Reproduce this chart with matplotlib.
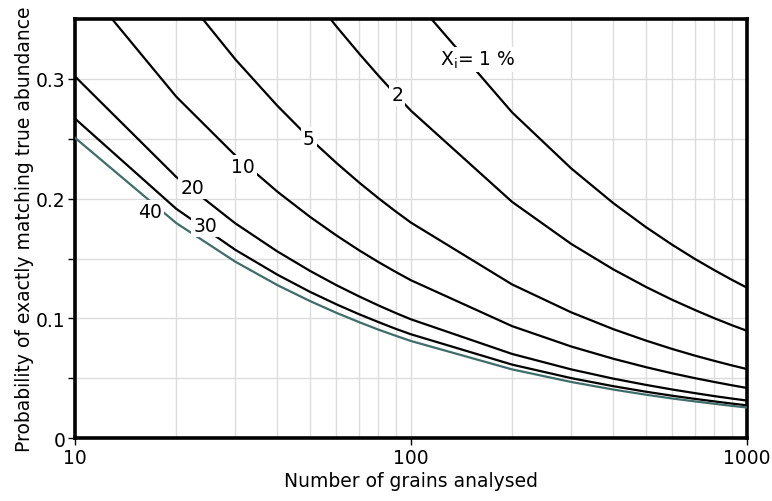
import matplotlib
matplotlib.use("Agg")
import matplotlib.pyplot as plt
import numpy as np
from matplotlib.ticker import LogLocator, FixedLocator, FuncFormatter, NullFormatter

nan = np.nan

# number of grains counted (x) and probability values
n_grains = [10, 20, 30, 40, 50, 60, 70, 80, 90, 100,
            200, 300, 400, 500, 600, 700, 800, 900, 1000]

p_1 = [nan, nan, nan, nan, nan, nan, nan, nan, nan, 0.3697,
       0.2720, 0.2252, 0.1963, 0.1763, 0.1614, 0.1497, 0.1403, 0.1324, 0.1257]
p_2 = [nan, nan, nan, nan, 0.3716, 0.3437, 0.3213, 0.3027, 0.2870, 0.2734,
       0.1973, 0.1622, 0.1410, 0.1264, 0.1155, 0.1071, 0.1002, 0.0945, 0.0897]
p_5 = [nan, 0.3774, 0.3163, 0.2776, 0.2502, 0.2298, 0.2136, 0.2004, 0.1894, 0.1800,
       0.1284, 0.1051, 0.0911, 0.0816, 0.0745, 0.0690, 0.0646, 0.0609, 0.0578]
p_10 = [0.3874, 0.2852, 0.2361, 0.2059, 0.1849, 0.1693, 0.1570, 0.1471, 0.1389, 0.1319,
        0.0936, 0.0766, 0.0664, 0.0594, 0.0542, 0.0502, 0.0470, 0.0443, 0.0420]
p_20 = [0.3020, 0.2182, 0.1794, 0.1560, 0.1398, 0.1278, 0.1185, 0.1109, 0.1046, 0.0993,
        0.0704, 0.0575, 0.0498, 0.0446, 0.0407, 0.0377, 0.0352, 0.0332, 0.0315]
p_30 = [0.2668, 0.1916, 0.1573, 0.1366, 0.1223, 0.1118, 0.1036, 0.0970, 0.0914, 0.0868,
        0.0615, 0.0502, 0.0435, 0.0389, 0.0355, 0.0329, 0.0308, 0.0290, 0.0275]
p_40 = [0.2508, 0.1797, 0.1474, 0.1279, 0.1146, 0.1047, 0.0970, 0.0907, 0.0856, 0.0812,
        0.0575, 0.0470, 0.0407, 0.0364, 0.0332, 0.0308, 0.0288, 0.0271, 0.0257]

curve_labels = [r"X$_\mathregular{i}$= 1 %", "2", "5", "10", "20", "30", "40"]
label_n = [158, 91, 49.7, 31.6, 22.3, 24.4, 16.7]
label_p = [0.316, 0.287, 0.250, 0.227, 0.209, 0.178, 0.189]

plt.rcParams['font.size'] = 13.5

fig = plt.figure(figsize=(7.72, 5.02), dpi=100)
ax = fig.add_axes([0.0972, 0.1249, 0.8704, 0.8353])

series = [p_1, p_2, p_5, p_10, p_20, p_30, p_40]
colors = ['black'] * 6 + ['#3f6e6a']
for vals, c in zip(series, colors):
    ax.plot(n_grains, vals, color=c, lw=1.6, zorder=3)

for txt, xn, yp in zip(curve_labels, label_n, label_p):
    ax.text(xn, yp, txt, ha='center', va='center', fontsize=13.5, zorder=5,
            bbox=dict(facecolor='white', edgecolor='none', pad=1.5))

ax.set_xscale('log')
ax.set_xlim(10, 1000)
ax.set_ylim(0, 0.35)

ax.xaxis.set_major_locator(FixedLocator([10, 100, 1000]))
ax.xaxis.set_major_formatter(FuncFormatter(lambda v, pos: f"{v:.0f}"))
ax.xaxis.set_minor_locator(LogLocator(base=10, subs=np.arange(2, 10)))
ax.xaxis.set_minor_formatter(NullFormatter())
ax.yaxis.set_major_locator(FixedLocator([0, 0.1, 0.2, 0.3]))
ax.yaxis.set_major_formatter(FuncFormatter(lambda v, pos: "0" if v == 0 else f"{v:.1f}"))
ax.yaxis.set_minor_locator(FixedLocator([0.05, 0.15, 0.25]))

ax.grid(True, which='both', color='#dcdcdc', lw=1.0, zorder=0)
ax.set_axisbelow(True)

ax.tick_params(axis='both', which='major', length=5, width=1, direction='out', pad=2)
ax.tick_params(axis='x', which='minor', length=0)
ax.tick_params(axis='y', which='minor', length=5, width=1)
for s in ax.spines.values():
    s.set_linewidth(2.6)

ax.set_xlabel("Number of grains analysed", labelpad=3)
ax.set_ylabel("Probability of exactly matching true abundance", labelpad=1)

fig.savefig("out.png", dpi=100)
